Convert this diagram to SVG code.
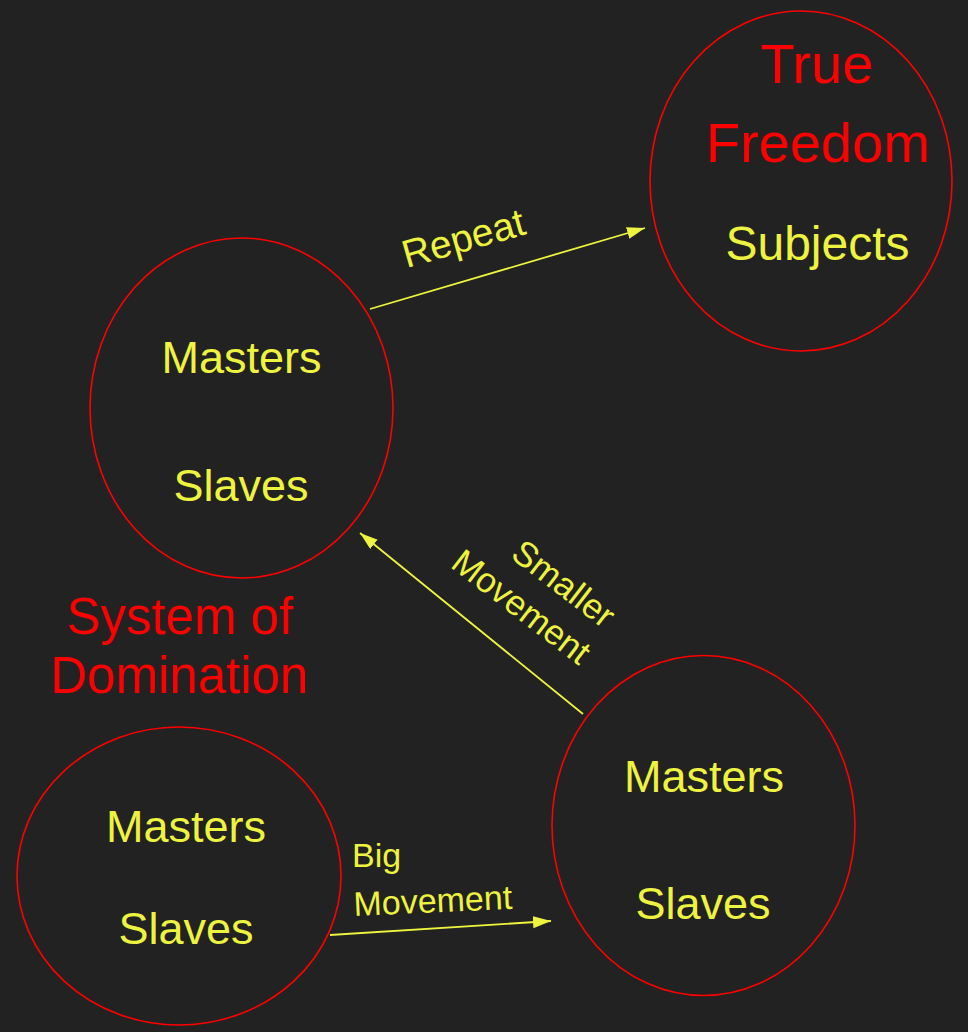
<svg xmlns="http://www.w3.org/2000/svg" width="968" height="1032" viewBox="0 0 968 1032">
<style>
.n{fill:none;stroke:#ff0000;stroke-width:1.6}
.y{fill:#eef33f;font-family:"Liberation Sans",Arial,sans-serif;text-anchor:middle}
.r{fill:#ff0000;font-family:"Liberation Sans",Arial,sans-serif;text-anchor:middle}
.e{stroke:#eef33f;stroke-width:1.8;fill:none}
.l{fill:#eef33f;font-family:"Liberation Sans",Arial,sans-serif}
</style>
<defs>
<marker id="ah" markerUnits="userSpaceOnUse" markerWidth="20" markerHeight="14" refX="18" refY="6" orient="auto">
<path d="M0,0 L18,6 L0,12 z" fill="#eef33f"/>
</marker>
</defs>
<rect width="968" height="1032" fill="#222222"/>
<g id="connectors">
<line class="e" x1="370" y1="309" x2="645" y2="228" marker-end="url(#ah)"/>
<line class="e" x1="583" y1="714" x2="360" y2="533" marker-end="url(#ah)"/>
<line class="e" x1="330" y1="935" x2="551" y2="921" marker-end="url(#ah)"/>
<text class="l" font-size="39" text-anchor="middle" transform="translate(467,251) rotate(-15.9)">Repeat</text>
<g transform="translate(579,666) rotate(37.5)">
<text class="l" font-size="35" text-anchor="end" x="-3" y="-44">Smaller</text>
<text class="l" font-size="35" text-anchor="end" x="0" y="0">Movement</text>
</g>
<text class="l" font-size="34" x="352" y="867">Big</text>
<text class="l" font-size="34" transform="translate(354,916) rotate(-2.6)">Movement</text>
</g>
<g id="freedom">
<ellipse class="n" cx="801" cy="181" rx="151" ry="170"/>
<text class="r" font-size="56" x="817" y="83">True</text>
<text class="r" font-size="56" x="818" y="162">Freedom</text>
<text class="y" font-size="48" x="817.5" y="260">Subjects</text>
</g>
<g id="system-top">
<ellipse class="n" cx="241.5" cy="408" rx="151.5" ry="170"/>
<text class="y" font-size="45" x="241.5" y="373">Masters</text>
<text class="y" font-size="45" x="241" y="501">Slaves</text>
</g>
<g id="system-label">
<text class="r" font-size="51" x="180" y="634">System of</text>
<text class="r" font-size="51" x="179.5" y="693">Domination</text>
</g>
<g id="system-bottom-left">
<ellipse class="n" cx="179" cy="876" rx="162" ry="149"/>
<text class="y" font-size="45" x="186" y="842">Masters</text>
<text class="y" font-size="45" x="186" y="944">Slaves</text>
</g>
<g id="system-bottom-right">
<ellipse class="n" cx="703.5" cy="825.5" rx="151.5" ry="170"/>
<text class="y" font-size="45" x="704" y="792">Masters</text>
<text class="y" font-size="45" x="703" y="919">Slaves</text>
</g>
</svg>
